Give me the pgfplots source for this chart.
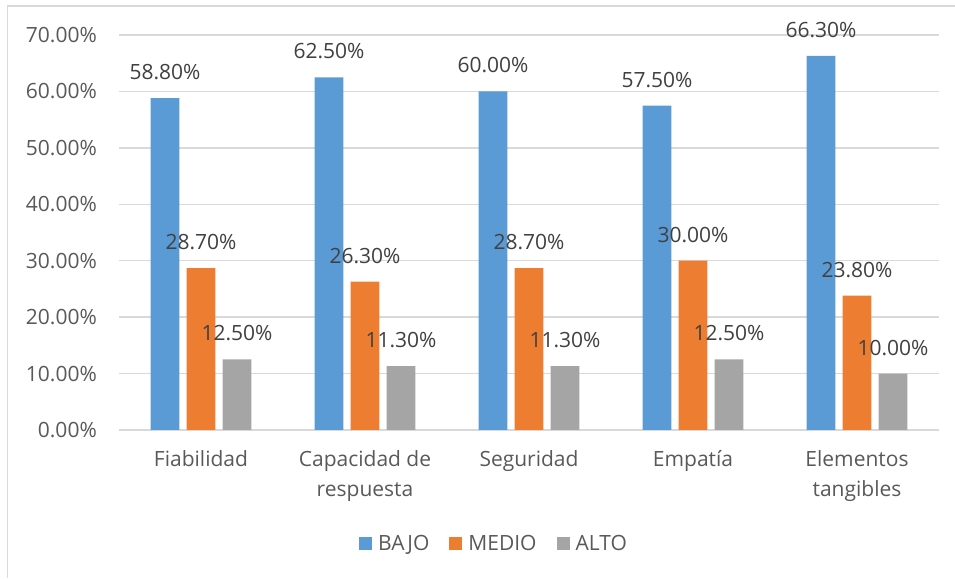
\documentclass[border=0pt]{standalone}
\usepackage{fontspec}
\setmainfont{Open Sans}
\usepackage{pgfplots}
\pgfplotsset{compat=1.18}
\pgfkeys{/pgf/number format/assume math mode=true}

\definecolor{bajo}{HTML}{5B9BD5}
\definecolor{medio}{HTML}{ED7D31}
\definecolor{alto}{HTML}{A5A5A5}
\definecolor{gridc}{HTML}{D9D9D9}
\definecolor{axtext}{HTML}{595959}
\definecolor{valtext}{HTML}{404040}

\newcommand\chartfont{\fontsize{21}{29.5}\selectfont}

\pgfplotsset{
  sq legend/.style={legend image code/.code={\fill[##1] (0pt,-6.5pt) rectangle (13pt,6.5pt);}},
}

\begin{document}
\begin{tikzpicture}
\useasboundingbox (0,0) rectangle (955pt,578pt);
% chart frame
\draw[gridc, line width=1.5pt] (7.5pt,0pt) -- (7.5pt,572pt) -- (955pt,572pt);
\begin{axis}[
  at={(119pt,148pt)}, anchor=south west,
  scale only axis, width=820pt, height=395pt,
  xmin=-0.5, xmax=4.5, ymin=0, ymax=70,
  clip=false,
  ybar=7.3pt, bar width=28.7pt,
  axis x line*=bottom, axis y line*=left,
  x axis line style={gridc, line width=1.5pt},
  y axis line style={draw=none},
  tick style={draw=none}, major tick length=0pt,
  ymajorgrids, grid style={gridc, line width=1.3pt},
  xtick={0,1,2,3,4},
  xticklabels={Fiabilidad, {Capacidad de\\respuesta}, Seguridad, Empatía, {Elementos\\tangibles}},
  xticklabel style={anchor=north, inner sep=0pt, yshift=-20.5pt, align=center, font=\chartfont, text=axtext},
  ytick={0,10,...,70},
  yticklabel={\pgfmathprintnumber[fixed,fixed zerofill,precision=2]{\tick}\%},
  yticklabel style={anchor=east, inner sep=0pt, xshift=-22pt, font=\chartfont, text=axtext},
  nodes near coords={\pgfmathprintnumber[fixed,fixed zerofill,precision=2]{\pgfplotspointmeta}\%},
  every node near coord/.append style={anchor=base, inner sep=0pt, yshift=18.5pt, font=\chartfont, text=valtext},
  legend columns=3,
  legend style={at={(0.2927,-0.2886)}, anchor=west, draw=none, fill=none, inner sep=0pt,
    font=\chartfont, text=axtext,
    /tikz/every odd column/.append style={column sep=4pt},
    /tikz/every even column/.append style={column sep=18pt}},
]
\addplot[fill=bajo, draw=none, sq legend] coordinates {(0,58.8) (1,62.5) (2,60.0) (3,57.5) (4,66.3)};
\addplot[fill=medio, draw=none, sq legend] coordinates {(0,28.7) (1,26.3) (2,28.7) (3,30.0) (4,23.8)};
\addplot[fill=alto, draw=none, sq legend] coordinates {(0,12.5) (1,11.3) (2,11.3) (3,12.5) (4,10.0)};
\legend{BAJO, MEDIO, ALTO}
\end{axis}
\end{tikzpicture}
\end{document}
